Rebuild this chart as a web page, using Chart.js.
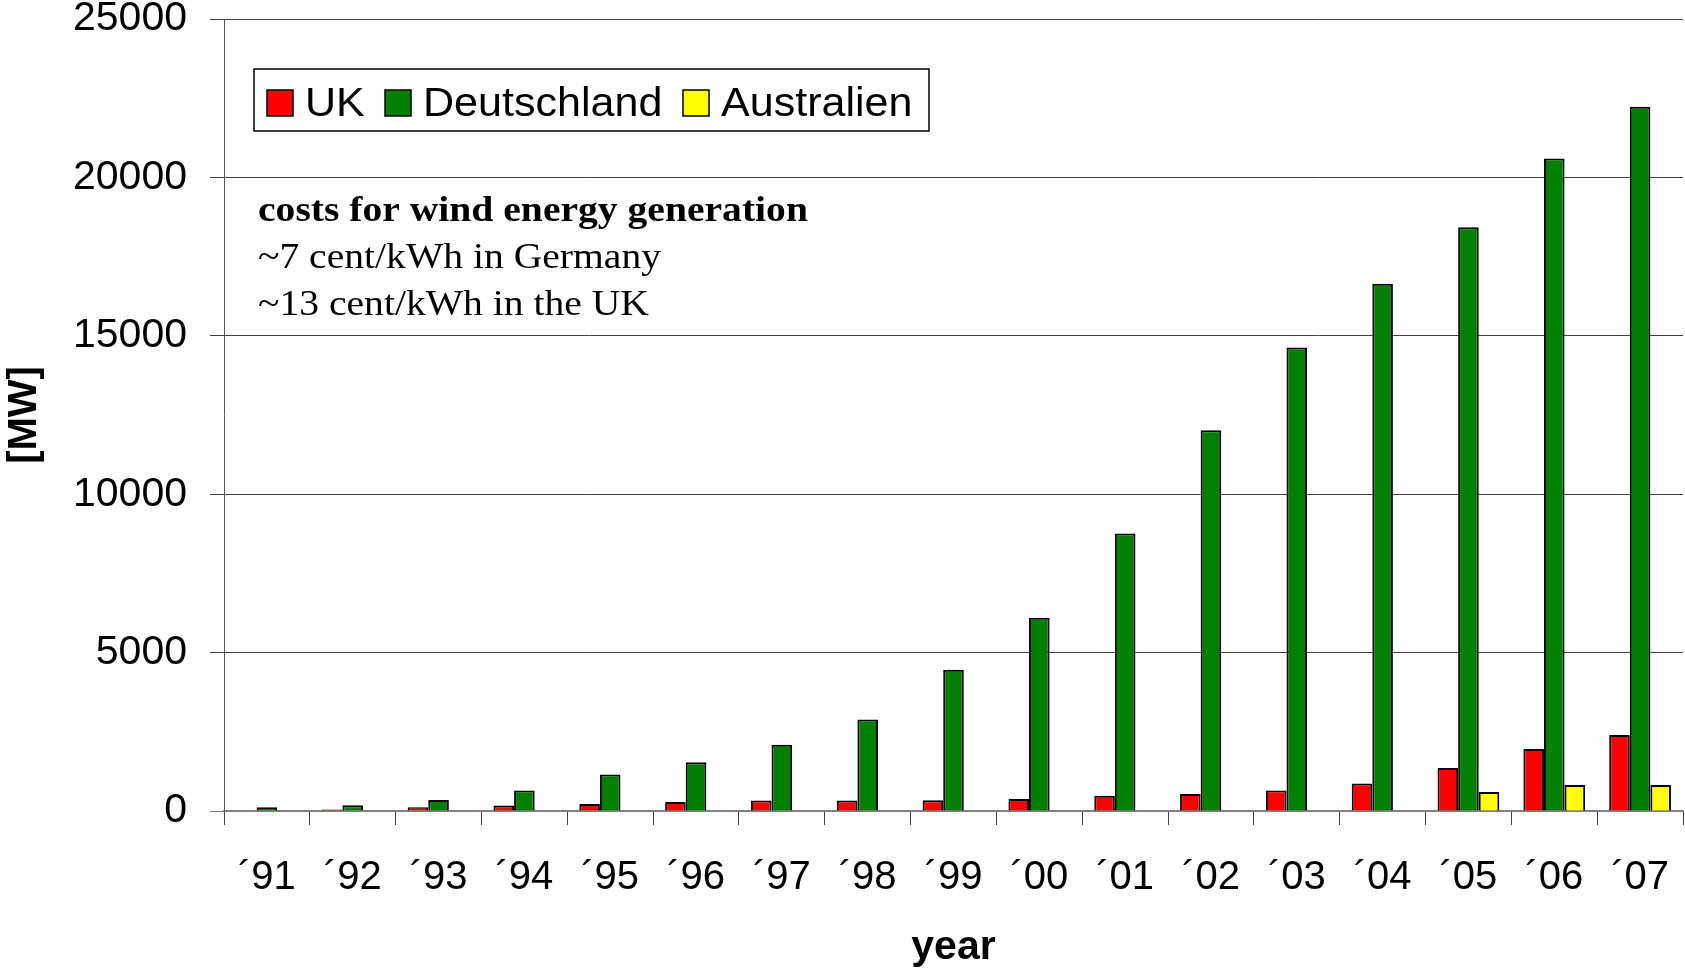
<!DOCTYPE html>
<html>
<head>
<meta charset="utf-8">
<script src="https://cdn.jsdelivr.net/npm/chart.js@4.4.1/dist/chart.umd.min.js"></script>
<style>
  html, body { margin: 0; padding: 0; background: #fff; }
  #wrap { width: 1685px; height: 968px; }
</style>
</head>
<body>
<div id="wrap"><canvas id="myChart"></canvas></div>
<script>
let years = ['´91', '´92', '´93', '´94', '´95', '´96', '´97', '´98', '´99', '´00', '´01', '´02', '´03', '´04', '´05', '´06', '´07'];
let uk = [null, 50, 120, 170, 220, 285, 335, 335, 340, 380, 480, 540, 650, 870, 1360, 1960, 2400];
let deutschland = [115, 185, 345, 650, 1150, 1540, 2090, 2890, 4460, 6100, 8760, 12020, 14630, 16640, 18430, 20600, 22230];
let australien = [null, null, null, null, null, null, null, null, null, null, null, null, null, null, 600, 820, 820];
let seriesNames = ['UK', 'Deutschland', 'Australien'];
let colorHex = ['#FF0000', '#008000', '#FFFF00'];
let yTicks = [0, 5000, 10000, 15000, 20000, 25000];
let note = ['costs for wind energy generation', '~7 cent/kWh in Germany', '~13 cent/kWh in the UK'];

let sans = '"Liberation Sans", Arial, sans-serif';
let serif = '"Liberation Serif", "Times New Roman", serif';

// legend box drawn by hand, inside the plot
let boxLegend = {
	id: 'boxLegend',
	afterDraw(chart) {
		let c = chart.ctx;
		let squareX = [267, 385, 683];
		c.save();
		c.fillStyle = '#fff';
		c.fillRect(254, 69, 675, 62);
		c.strokeStyle = '#000';
		c.lineWidth = 1.5;
		c.strokeRect(254, 69, 675, 62);
		c.font = '41px ' + sans;
		c.textBaseline = 'alphabetic';
		chart.data.datasets.forEach((ds, i) => {
			let x = squareX[i];
			c.fillStyle = ds.backgroundColor;
			c.fillRect(x, 90, 26, 26);
			c.lineWidth = 1.5;
			c.strokeStyle = '#000';
			c.strokeRect(x, 90, 26, 26);
			c.save();
			c.translate(x + 38, 116);
			c.scale(1.05, 1);
			c.fillStyle = '#000';
			c.fillText(ds.label, 0, 0);
			c.restore();
		});
		c.restore();
	}
};

let costNote = {
	id: 'costNote',
	afterDraw(chart) {
		let c = chart.ctx;
		let base = [221, 268, 315];
		c.save();
		c.fillStyle = '#000';
		note.forEach((line, i) => {
			c.save();
			c.translate(258, base[i]);
			c.scale(1.1, 1);
			c.font = (i === 0 ? 'bold ' : '') + '36px ' + serif;
			c.fillText(line, 0, 0);
			c.restore();
		});
		c.restore();
	}
};

let ctx = document.getElementById('myChart').getContext('2d');
let myChart = new Chart(ctx, {
	type: 'bar',
	data: {
		labels: years,
		datasets: [uk, deutschland, australien].map((vals, i) => ({
			label: seriesNames[i],
			data: vals,
			backgroundColor: colorHex[i],
			borderColor: '#000',
			borderWidth: 2,
			barPercentage: 1,
			categoryPercentage: 0.72
		}))
	},
	options: {
		responsive: true,
		maintainAspectRatio: false,
		devicePixelRatio: 1,
		animation: false,
		layout: { padding: { top: 19, right: 2, left: 0, bottom: 0 } },
		plugins: {
			legend: { display: false },
			tooltip: { enabled: false }
		},
		scales: {
			x: {
				offset: true,
				afterFit: (scale) => {
					scale.height = 157;
					scale.paddingLeft = 0;
					scale.paddingRight = 0;
				},
				grid: {
					offset: true,
					drawOnChartArea: false,
					drawTicks: true,
					tickLength: 14,
					color: '#404040'
				},
				border: { display: true, color: '#808080', width: 2 },
				ticks: {
					color: '#000',
					padding: 33,
					maxRotation: 0,
					autoSkip: false,
					font: { family: sans, size: 40, lineHeight: 1 }
				},
				title: {
					display: true,
					text: 'year',
					color: '#000',
					padding: { top: 0, bottom: 0 },
					font: { family: sans, size: 41, weight: 'bold', lineHeight: 1 }
				}
			},
			y: {
				min: 0,
				max: 25000,
				afterFit: (scale) => {
					scale.width = 224;
					scale.paddingTop = 0;
					scale.paddingBottom = 0;
				},
				afterBuildTicks: (scale) => { scale.ticks = yTicks.map((v) => ({ value: v })); },
				grid: {
					color: (c) => (c.tick && c.tick.value === 0 ? '#808080' : '#404040'),
					lineWidth: 1,
					drawTicks: true,
					tickLength: 14
				},
				border: { display: true, color: '#555', width: 1 },
				ticks: {
					color: '#000',
					padding: 23,
					callback: (v) => String(v),
					font: { family: sans, size: 41, lineHeight: 0.9 }
				},
				title: {
					display: true,
					text: '[MW]',
					color: '#000',
					padding: 0,
					font: { family: sans, size: 40, weight: 'bold', lineHeight: 1.25 }
				}
			}
		}
	},
	plugins: [boxLegend, costNote]
});
</script>
</body>
</html>
